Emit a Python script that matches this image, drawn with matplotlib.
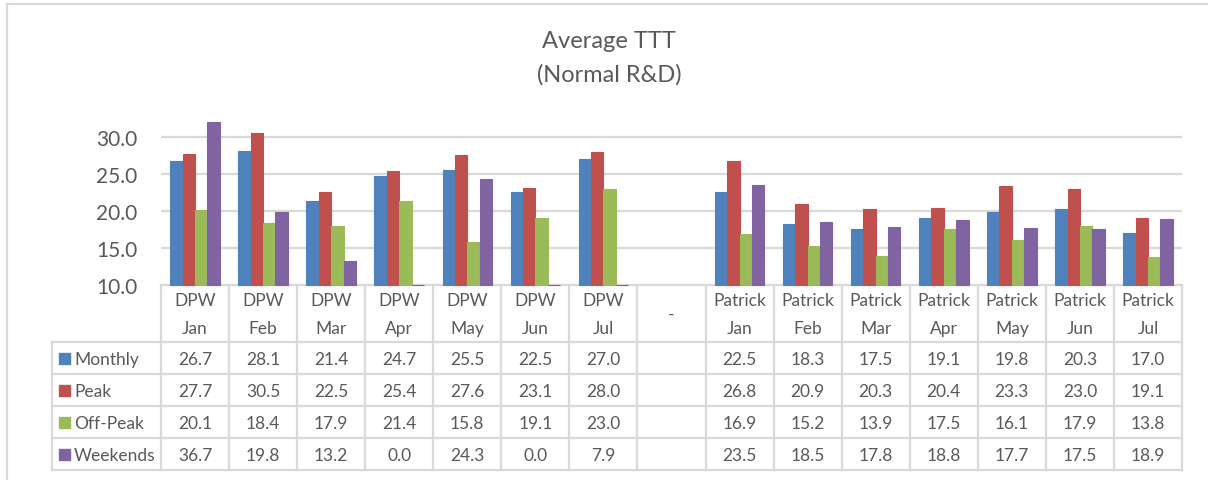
import numpy as np
import matplotlib.pyplot as plt
from matplotlib.patches import Rectangle
from matplotlib.lines import Line2D

plt.rcParams['font.family'] = ['Lato', 'DejaVu Sans']

groups = ["DPW"] * 7 + ["-"] + ["Patrick"] * 7
months = ["Jan", "Feb", "Mar", "Apr", "May", "Jun", "Jul", "",
          "Jan", "Feb", "Mar", "Apr", "May", "Jun", "Jul"]
series_names = ["Monthly", "Peak", "Off-Peak", "Weekends"]
monthly = [26.7, 28.1, 21.4, 24.7, 25.5, 22.5, 27.0, np.nan,
           22.5, 18.3, 17.5, 19.1, 19.8, 20.3, 17.0]
peak = [27.7, 30.5, 22.5, 25.4, 27.6, 23.1, 28.0, np.nan,
        26.8, 20.9, 20.3, 20.4, 23.3, 23.0, 19.1]
offpeak = [20.1, 18.4, 17.9, 21.4, 15.8, 19.1, 23.0, np.nan,
           16.9, 15.2, 13.9, 17.5, 16.1, 17.9, 13.8]
weekends = [36.7, 19.8, 13.2, 0.0, 24.3, 0.0, 7.9, np.nan,
            23.5, 18.5, 17.8, 18.8, 17.7, 17.5, 18.9]
colors = ["#4F81BD", "#C0504D", "#9BBB59", "#8064A2"]

W, H = 1208, 481
fig = plt.figure(figsize=(W / 100, H / 100), dpi=100)
txt = "#595959"
grid = "#d9d9d9"

# plot area in pixels
x0, x1, ytop, ybot = 161, 1182, 123, 286
ax = fig.add_axes([x0 / W, 1 - ybot / H, (x1 - x0) / W, (ybot - ytop) / H])
ymin, ymax = 10, 32
n = len(months)
idx = np.arange(n)
bw = 1 / 5.5
data = [monthly, peak, offpeak, weekends]
ax.axhline(ymin, color=grid, linewidth=1.6, zorder=2, clip_on=False)
for k, vals in enumerate(data):
    v = np.array(vals, dtype=float)
    # excel draws out-of-range values clamped to the axis
    h = np.clip(v, ymin, ymax) - ymin
    ax.bar(idx + (k - 1.5) * bw, h, bw, bottom=ymin, color=colors[k],
           edgecolor=colors[k], linewidth=0.8, zorder=3, clip_on=False)
ax.set_xlim(-0.5, n - 0.5)
ax.set_ylim(ymin, ymax)
ax.set_yticks(np.arange(10, 31, 5))
ax.set_yticklabels([f"{t:.1f}" for t in np.arange(10, 31, 5)])
ax.tick_params(axis='y', length=0, pad=17, labelsize=15, labelcolor=txt)
ax.set_xticks([])
ax.grid(axis='y', color=grid, linewidth=1.6, zorder=0)
for s in ax.spines.values():
    s.set_visible(False)

# title
fig.text(609 / W, 1 - 42 / H, "Average TTT", ha='center', va='center',
         fontsize=17, color=txt)
fig.text(609 / W, 1 - 75 / H, "(Normal R&D)", ha='center', va='center',
         fontsize=17, color=txt)

# data table drawn in pixel coords
tab = fig.add_axes([0, 0, 1, 1], zorder=-1)
tab.set_xlim(0, W)
tab.set_ylim(H, 0)
tab.axis('off')
tab.patch.set_alpha(0)
cw = (x1 - x0) / n
rows_y = [343, 375, 407, 439, 471]
lw = 1.6
fs = 12.5


def seg(xa, xb, ya, yb):
    tab.add_line(Line2D([xa, xb], [ya, yb], color=grid, linewidth=lw,
                        solid_capstyle='projecting'))


# outer chart border
seg(7, W + 5, 5, 5)
seg(7, 7, 5, H + 5)

for y in rows_y:
    seg(52, x1, y, y)
seg(52, 52, rows_y[0], rows_y[-1])
for i in range(n + 1):
    seg(x0 + i * cw, x0 + i * cw, ybot, rows_y[-1])

for i in range(n):
    cx = x0 + (i + 0.5) * cw
    if months[i]:
        tab.text(cx, 301, groups[i], ha='center', va='center', fontsize=fs, color=txt)
        tab.text(cx, 329, months[i], ha='center', va='center', fontsize=fs, color=txt)
    else:
        tab.text(cx, 315, groups[i], ha='center', va='center', fontsize=fs, color=txt)
    for r, vals in enumerate(data):
        if not np.isnan(vals[i]):
            tab.text(cx, (rows_y[r] + rows_y[r + 1]) / 2 + 1, f"{vals[i]:.1f}",
                     ha='center', va='center', fontsize=fs, color=txt)

for r, name in enumerate(series_names):
    yc = (rows_y[r] + rows_y[r + 1]) / 2
    tab.add_patch(Rectangle((59, yc - 5), 11, 11, color=colors[r]))
    tab.text(74, yc + 1, name, ha='left', va='center', fontsize=fs, color=txt)

fig.savefig("out.png", dpi=100)
